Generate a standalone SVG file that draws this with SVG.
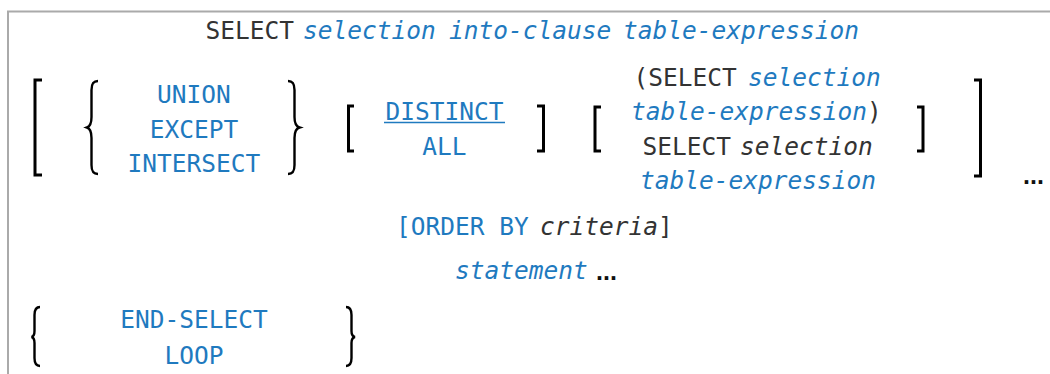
<svg xmlns="http://www.w3.org/2000/svg" width="1050" height="374" viewBox="0 0 1050 374">
<style>
text{font-family:"DejaVu Sans Mono","Liberation Mono",monospace;font-size:24.5px;}
.kw{fill:#333333;}
.bl{fill:#1f7abf;}
.it{font-style:italic;}
.dots{font-family:"Liberation Sans",Arial,sans-serif;font-weight:bold;font-size:25px;fill:#111;}
.br{fill:none;stroke:#000;stroke-width:3;}
.bc{fill:none;stroke:#000;stroke-width:2.4;}
.frame{fill:none;stroke:#aaaaaa;stroke-width:2;}
</style>
<rect width="1050" height="374" fill="#ffffff"/>
<path class="frame" d="M8,374 V11.5 H1050"/>

<g id="row1">
<text y="39"><tspan class="kw" x="205.5">SELECT</tspan><tspan class="bl it" x="303">selection</tspan><tspan class="bl it" x="449">into-clause</tspan><tspan class="bl it" x="623">table-expression</tspan></text>
</g>

<g id="outer-brackets">
<path class="br" d="M42,80 H35 V175 H42"/>
<path class="br" d="M974,80 H980.5 V176 H974"/>
<text class="dots" x="1023" y="184">...</text>
</g>

<g id="set-ops">
<path class="bc" d="M98,81 C93,81 91.5,84 91.5,90 V117 C91.5,123 90,126.5 87,127.5 C90,128.5 91.5,132 91.5,138 V165 C91.5,171 93,174 98,174"/>
<text class="bl" x="194" y="103" text-anchor="middle">UNION</text>
<text class="bl" x="194" y="137.5" text-anchor="middle">EXCEPT</text>
<text class="bl" x="194" y="172" text-anchor="middle">INTERSECT</text>
<path class="bc" d="M288,81 C293,81 294.5,84 294.5,90 V117 C294.5,123 296,126.5 299.5,127.5 C296,128.5 294.5,132 294.5,138 V165 C294.5,171 293,174 288,174"/>
</g>

<g id="distinct-all">
<path class="br" d="M354,106 H348.5 V151 H354"/>
<text class="bl" x="444.5" y="120" text-anchor="middle">DISTINCT</text>
<line x1="384" y1="122.5" x2="505" y2="122.5" stroke="#1f7abf" stroke-width="1.6"/>
<text class="bl" x="444.5" y="155" text-anchor="middle">ALL</text>
<path class="br" d="M537,106 H543.5 V151 H537"/>
</g>

<g id="subselect">
<path class="br" d="M601,107 H595 V151 H601"/>
<text y="86"><tspan class="kw" x="633.5">(SELECT</tspan><tspan class="bl it" x="748">selection</tspan></text>
<text y="120"><tspan class="bl it" x="631">table-expression</tspan><tspan class="kw">)</tspan></text>
<text y="155"><tspan class="kw" x="642.5">SELECT</tspan><tspan class="kw it" x="740">selection</tspan></text>
<text class="bl it" x="640" y="189">table-expression</text>
<path class="br" d="M917,107 H923 V151 H917"/>
</g>

<g id="order-by">
<text y="235"><tspan class="bl" x="396">[ORDER BY</tspan><tspan class="kw it" x="540">criteria</tspan><tspan class="kw">]</tspan></text>
</g>

<g id="statement">
<text class="bl it" x="455" y="279">statement</text>
<text class="dots" x="596" y="280">...</text>
</g>

<g id="end-loop">
<path class="bc" d="M40,307 C35.5,307 34.5,310 34.5,315 V331 C34.5,334.5 33.5,336.5 31.5,337 C33.5,337.5 34.5,339.5 34.5,343 V358 C34.5,363 35.5,366 40,366"/>
<text class="bl" x="194" y="328" text-anchor="middle">END-SELECT</text>
<text class="bl" x="194" y="364" text-anchor="middle">LOOP</text>
<path class="bc" d="M346,307 C350.5,307 351.5,310 351.5,315 V331 C351.5,334.5 352.5,336.5 355,337 C352.5,337.5 351.5,339.5 351.5,343 V358 C351.5,363 350.5,366 346,366"/>
</g>
</svg>
